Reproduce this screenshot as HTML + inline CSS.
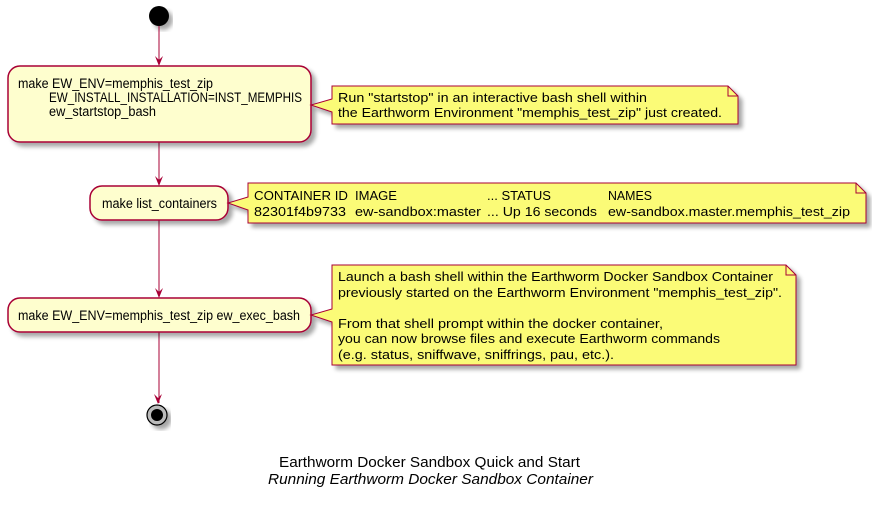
<!DOCTYPE html>
<html><head><meta charset="utf-8"><style>
html,body{margin:0;padding:0;background:#fff;}
svg{display:block;}
text{font-family:"Liberation Sans",sans-serif;font-size:13px;fill:#000;}
</style></head><body>
<svg width="872" height="507" viewBox="0 0 872 507" xmlns="http://www.w3.org/2000/svg">
<defs>
<filter id="sh" x="-10%" y="-10%" width="130%" height="140%">
<feGaussianBlur in="SourceAlpha" stdDeviation="2"/>
<feOffset dx="4" dy="4" result="b"/>
<feComponentTransfer><feFuncA type="linear" slope="0.35"/></feComponentTransfer>
<feMerge><feMergeNode/><feMergeNode in="SourceGraphic"/></feMerge>
</filter>
</defs>
<circle cx="159" cy="16" r="10" fill="#000" filter="url(#sh)"/>
<g stroke="#A80036" stroke-width="1" fill="none">
<line x1="159" y1="26" x2="159" y2="65"/>
<line x1="159" y1="142" x2="159" y2="185"/>
<line x1="159" y1="220" x2="159" y2="297"/>
<line x1="159" y1="332" x2="159" y2="403"/>
</g>
<g fill="#A80036">
<polygon points="155,56 159,66 163,56 159,60"/>
<polygon points="155,176 159,186 163,176 159,180"/>
<polygon points="155,288 159,298 163,288 159,292"/>
<polygon points="154,394 158,404 162,394 158,398"/>
</g>
<rect x="8" y="66" width="303" height="76" rx="12" fill="#FEFECE" stroke="#A80036" stroke-width="1.5" filter="url(#sh)"/>
<text x="18" y="88" textLength="195" lengthAdjust="spacingAndGlyphs" style="font-size:13.5px">make EW_ENV=memphis_test_zip</text>
<text x="49" y="102" textLength="253" lengthAdjust="spacingAndGlyphs" style="font-size:13.5px">EW_INSTALL_INSTALLATION=INST_MEMPHIS</text>
<text x="49" y="116" textLength="107" lengthAdjust="spacingAndGlyphs" style="font-size:13.5px">ew_startstop_bash</text>
<path d="M332,86 L728,86 L738,96 L738,124 L332,124 L332,112 L311,105 L332,99 Z" fill="#FBFB77" stroke="#A80036" stroke-width="1" filter="url(#sh)"/>
<path d="M728,86 L728,96 L738,96" fill="none" stroke="#A80036"/>
<text x="338" y="102" textLength="309" lengthAdjust="spacingAndGlyphs">Run "startstop" in an interactive bash shell within</text>
<text x="338" y="117" textLength="384" lengthAdjust="spacingAndGlyphs">the Earthworm Environment "memphis_test_zip" just created.</text>
<rect x="90" y="186" width="138" height="34" rx="12" fill="#FEFECE" stroke="#A80036" stroke-width="1.5" filter="url(#sh)"/>
<text x="102" y="208" textLength="115" lengthAdjust="spacingAndGlyphs" style="font-size:13.5px">make list_containers</text>
<path d="M248,183 L856,183 L866,193 L866,223 L248,223 L248,210 L228,203 L248,197 Z" fill="#FBFB77" stroke="#A80036" stroke-width="1" filter="url(#sh)"/>
<path d="M856,183 L856,193 L866,193" fill="none" stroke="#A80036"/>
<text x="254" y="200" textLength="94" lengthAdjust="spacingAndGlyphs">CONTAINER ID</text>
<text x="355" y="200" textLength="42" lengthAdjust="spacingAndGlyphs">IMAGE</text>
<text x="487" y="200" textLength="64" lengthAdjust="spacingAndGlyphs">... STATUS</text>
<text x="608" y="200" textLength="44" lengthAdjust="spacingAndGlyphs">NAMES</text>
<text x="254" y="216" textLength="92" lengthAdjust="spacingAndGlyphs">82301f4b9733</text>
<text x="355" y="216" textLength="126" lengthAdjust="spacingAndGlyphs">ew-sandbox:master</text>
<text x="487" y="216" textLength="110" lengthAdjust="spacingAndGlyphs">... Up 16 seconds</text>
<text x="608" y="216" textLength="242" lengthAdjust="spacingAndGlyphs">ew-sandbox.master.memphis_test_zip</text>
<rect x="8" y="298" width="303" height="34" rx="12" fill="#FEFECE" stroke="#A80036" stroke-width="1.5" filter="url(#sh)"/>
<text x="18" y="320" textLength="282" lengthAdjust="spacingAndGlyphs" style="font-size:13.5px">make EW_ENV=memphis_test_zip ew_exec_bash</text>
<path d="M332,265 L786,265 L796,275 L796,365 L332,365 L332,322 L311,315 L332,309 Z" fill="#FBFB77" stroke="#A80036" stroke-width="1" filter="url(#sh)"/>
<path d="M786,265 L786,275 L796,275" fill="none" stroke="#A80036"/>
<text x="338" y="281" textLength="435" lengthAdjust="spacingAndGlyphs">Launch a bash shell within the Earthworm Docker Sandbox Container</text>
<text x="338" y="297" textLength="444" lengthAdjust="spacingAndGlyphs">previously started on the Earthworm Environment "memphis_test_zip".</text>
<text x="338" y="328" textLength="325" lengthAdjust="spacingAndGlyphs">From that shell prompt within the docker container,</text>
<text x="338" y="343" textLength="382" lengthAdjust="spacingAndGlyphs">you can now browse files and execute Earthworm commands</text>
<text x="338" y="359" textLength="276" lengthAdjust="spacingAndGlyphs">(e.g. status, sniffwave, sniffrings, pau, etc.).</text>
<circle cx="157" cy="415" r="10" fill="#bbb" stroke="#000" stroke-width="1.2" filter="url(#sh)"/>
<circle cx="157" cy="415" r="6" fill="#000"/>
<text x="279" y="467" textLength="301" lengthAdjust="spacingAndGlyphs" style="font-size:14.5px">Earthworm Docker Sandbox Quick and Start</text>
<text x="268" y="484" textLength="325" lengthAdjust="spacingAndGlyphs" style="font-size:14.5px;font-style:italic">Running Earthworm Docker Sandbox Container</text>
</svg>
</body></html>
